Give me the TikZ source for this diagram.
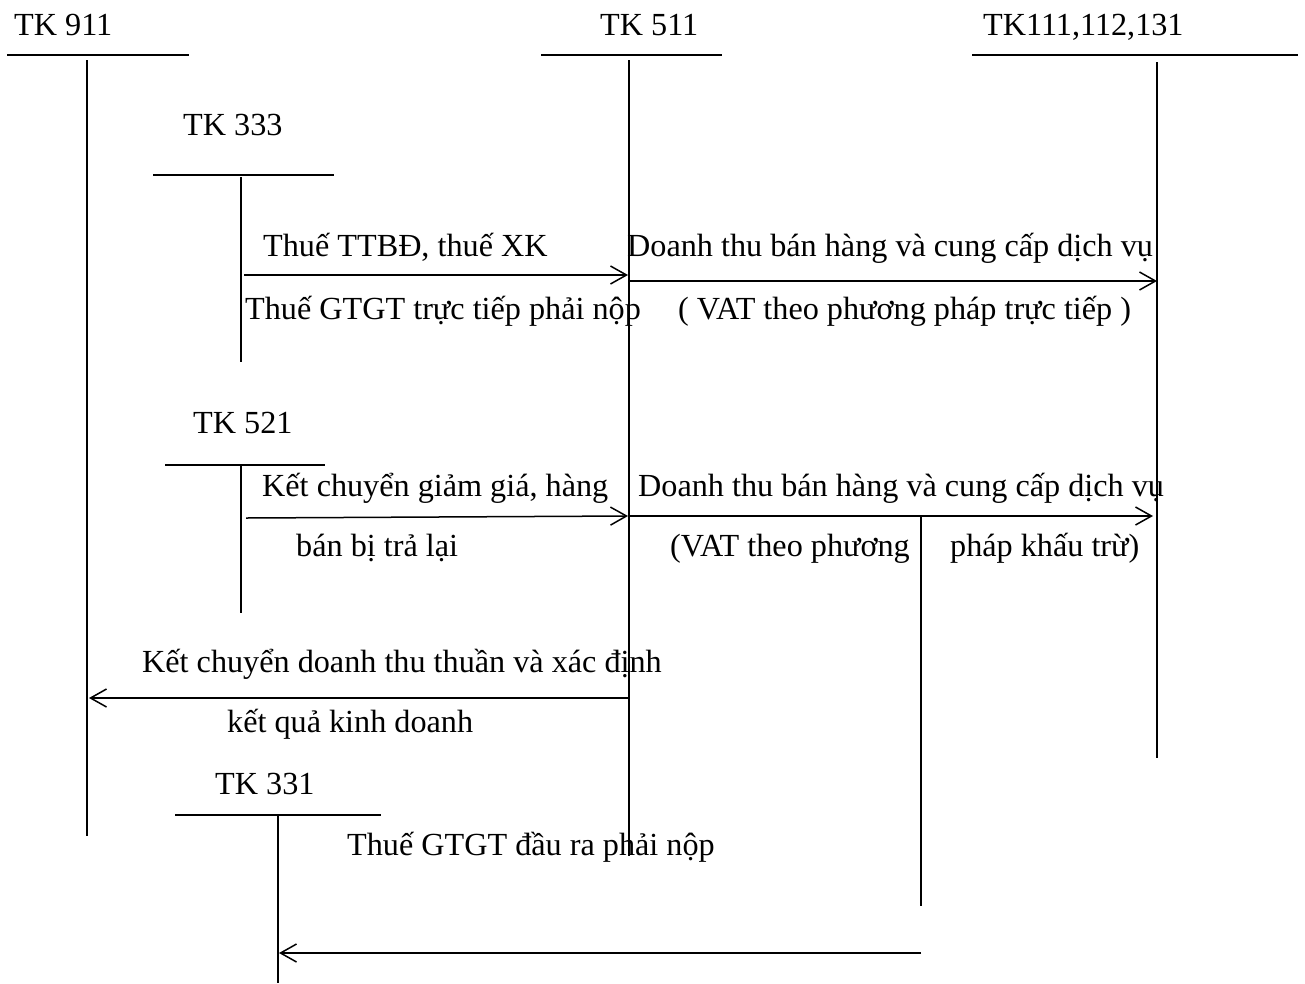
\documentclass[tikz,border=0pt]{standalone}
\usepackage{fontspec}
\setmainfont{Liberation Serif}
\usetikzlibrary{arrows.meta}
\begin{document}
\begin{tikzpicture}[x=1pt,y=-1pt,
  ln/.style={line width=1.5pt,black},
  arr/.style={ln,-{Straight Barb[length=16pt,width=18pt,line width=1.5pt]}},
  lbl/.style={anchor=base west,inner sep=0pt,font=\fontsize{32.2}{38}\selectfont}]
\useasboundingbox (0,0) rectangle (1305,983);
% T-account headers
\node[lbl] (t911) at (14,35) {TK 911};
\node[lbl] (t511) at (600,35) {TK 511};
\node[lbl] (t111) at (983,35) {TK111,112,131};
\node[lbl] (t333) at (183,135) {TK 333};
\node[lbl] (t521) at (193,433) {TK 521};
\node[lbl] (t331) at (215,794) {TK 331};
% coordinates
\coordinate (h911a) at (7,55);   \coordinate (h911b) at (189,55);
\coordinate (v911a) at (87,60);  \coordinate (v911b) at (87,836);
\coordinate (h511a) at (541,55); \coordinate (h511b) at (722,55);
\coordinate (v511a) at (629,60); \coordinate (v511b) at (629,856);
\coordinate (h111a) at (972,55); \coordinate (h111b) at (1298,55);
\coordinate (v111a) at (1157,62);\coordinate (v111b) at (1157,758);
\coordinate (h333a) at (153,175);\coordinate (h333b) at (334,175);
\coordinate (v333a) at (241,177);\coordinate (v333b) at (241,362);
\coordinate (h521a) at (165,465);\coordinate (h521b) at (325,465);
\coordinate (v521a) at (241,466);\coordinate (v521b) at (241,613);
\coordinate (h331a) at (175,815);\coordinate (h331b) at (381,815);
\coordinate (v331a) at (278,816);\coordinate (v331b) at (278,983);
\coordinate (vvat a) at (921,515);\coordinate (vvat b) at (921,906);
% T lines
\draw[ln] (h911a) -- (h911b); \draw[ln] (v911a) -- (v911b);
\draw[ln] (h511a) -- (h511b); \draw[ln] (v511a) -- (v511b);
\draw[ln] (h111a) -- (h111b); \draw[ln] (v111a) -- (v111b);
\draw[ln] (h333a) -- (h333b); \draw[ln] (v333a) -- (v333b);
\draw[ln] (h521a) -- (h521b); \draw[ln] (v521a) -- (v521b);
\draw[ln] (h331a) -- (h331b); \draw[ln] (v331a) -- (v331b);
\draw[ln] (vvat a) -- (vvat b);
% arrows
\coordinate (a1s) at (244,275); \coordinate (a1e) at (628,275);
\coordinate (a2s) at (629,281); \coordinate (a2e) at (1157,281);
\coordinate (a3s) at (246,518); \coordinate (a3e) at (628,516);
\coordinate (a4s) at (629,516); \coordinate (a4e) at (1153,516);
\coordinate (a5s) at (629,698); \coordinate (a5e) at (89,698);
\coordinate (a6s) at (921,953); \coordinate (a6e) at (279,953);
\draw[arr] (a1s) -- (a1e);
\draw[arr] (a2s) -- (a2e);
\draw[arr] (a3s) -- (a3e);
\draw[arr] (a4s) -- (a4e);
\draw[arr] (a5s) -- (a5e);
\draw[arr] (a6s) -- (a6e);
% labels
\node[lbl] (l1) at (263,256) {Thuế TTBĐ, thuế XK};
\node[lbl] (l2) at (245,319) {Thuế GTGT trực tiếp phải nộp};
\node[lbl] (l3) at (627,256) {Doanh thu bán hàng và cung cấp dịch vụ};
\node[lbl] (l4) at (678,319) {( VAT theo phương pháp trực tiếp )};
\node[lbl] (l5) at (262,496) {Kết chuyển giảm giá, hàng};
\node[lbl] (l6) at (296,556) {bán bị trả lại};
\node[lbl] (l7) at (638,496) {Doanh thu bán hàng và cung cấp dịch vụ};
\node[lbl] (l8) at (670,556) {(VAT theo phương};
\node[lbl] (l9) at (950,556) {pháp khấu trừ)};
\node[lbl] (l10) at (142,672) {Kết chuyển doanh thu thuần và xác định};
\node[lbl] (l11) at (227,732) {kết quả kinh doanh};
\node[lbl] (l12) at (347,855) {Thuế GTGT đầu ra phải nộp};
\end{tikzpicture}
\end{document}
